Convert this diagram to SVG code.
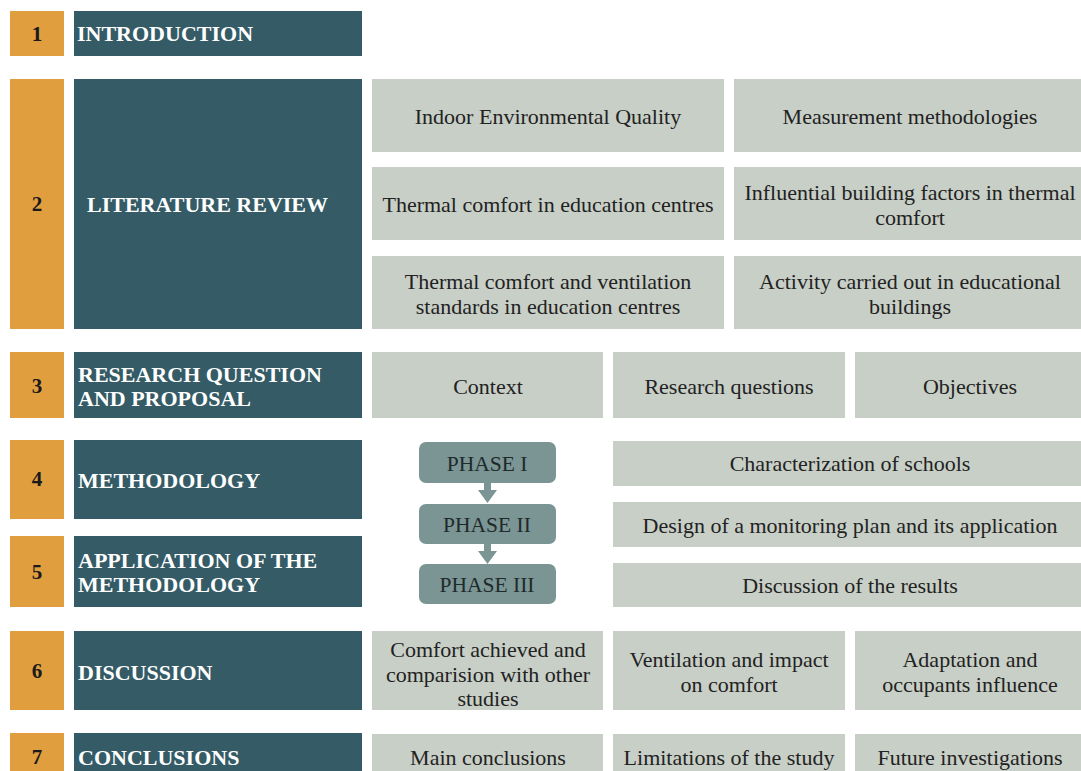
<svg xmlns="http://www.w3.org/2000/svg" width="1081" height="771" viewBox="0 0 1081 771">
  <style>
    .num { fill: #E09E3F; }
    .sec { fill: #345B66; }
    .item { fill: #C8CFC7; }
    .phase { fill: #7B9494; }
    .numt { font-family: "Liberation Serif", serif; font-weight: bold; font-size: 21px; fill: #1a1a1a; text-anchor: middle; }
    .sect { font-family: "Liberation Serif", serif; font-weight: bold; font-size: 22px; fill: #ffffff; }
    .itemt { font-family: "Liberation Serif", serif; font-size: 22px; fill: #222222; text-anchor: middle; }
    .phaset { font-family: "Liberation Serif", serif; font-size: 21.5px; fill: #1e2a2a; text-anchor: middle; }
  </style>
  <rect width="1081" height="771" fill="#ffffff"/>

  <!-- 1 Introduction -->
  <g id="s1">
    <rect class="num" x="10" y="11" width="54" height="45"/>
    <text class="numt" x="37" y="41">1</text>
    <rect class="sec" x="74" y="11" width="288" height="45"/>
    <text class="sect" x="77" y="41">INTRODUCTION</text>
  </g>

  <!-- 2 Literature review -->
  <g id="s2">
    <rect class="num" x="10" y="79" width="54" height="250"/>
    <text class="numt" x="37" y="211">2</text>
    <rect class="sec" x="74" y="79" width="288" height="250"/>
    <text class="sect" x="87" y="212">LITERATURE REVIEW</text>
  </g>
  <g id="s2-items">
    <rect class="item" x="372" y="79" width="352" height="73"/>
    <text class="itemt" x="548" y="124">Indoor Environmental Quality</text>
    <rect class="item" x="734" y="79" width="347" height="73"/>
    <text class="itemt" x="910" y="124">Measurement methodologies</text>
    <rect class="item" x="372" y="167" width="352" height="73"/>
    <text class="itemt" x="548" y="212">Thermal comfort in education centres</text>
    <rect class="item" x="734" y="167" width="347" height="73"/>
    <text class="itemt" x="910" y="200">Influential building factors in thermal</text>
    <text class="itemt" x="910" y="225">comfort</text>
    <rect class="item" x="372" y="256" width="352" height="73"/>
    <text class="itemt" x="548" y="289">Thermal comfort and ventilation</text>
    <text class="itemt" x="548" y="314">standards in education centres</text>
    <rect class="item" x="734" y="256" width="347" height="73"/>
    <text class="itemt" x="910" y="289">Activity carried out in educational</text>
    <text class="itemt" x="910" y="314">buildings</text>
  </g>

  <!-- 3 Research question -->
  <g id="s3">
    <rect class="num" x="10" y="352" width="54" height="66"/>
    <text class="numt" x="37" y="393">3</text>
    <rect class="sec" x="74" y="352" width="288" height="66"/>
    <text class="sect" x="78" y="382">RESEARCH QUESTION</text>
    <text class="sect" x="78" y="406">AND PROPOSAL</text>
  </g>
  <g id="s3-items">
    <rect class="item" x="372" y="352" width="231" height="66"/>
    <text class="itemt" x="488" y="394">Context</text>
    <rect class="item" x="613" y="352" width="232" height="66"/>
    <text class="itemt" x="729" y="394">Research questions</text>
    <rect class="item" x="855" y="352" width="226" height="66"/>
    <text class="itemt" x="970" y="394">Objectives</text>
  </g>

  <!-- 4 Methodology -->
  <g id="s4">
    <rect class="num" x="10" y="440" width="54" height="79"/>
    <text class="numt" x="37" y="486">4</text>
    <rect class="sec" x="74" y="440" width="288" height="79"/>
    <text class="sect" x="78" y="488">METHODOLOGY</text>
  </g>

  <!-- 5 Application -->
  <g id="s5">
    <rect class="num" x="10" y="536" width="54" height="71"/>
    <text class="numt" x="37" y="579">5</text>
    <rect class="sec" x="74" y="536" width="288" height="71"/>
    <text class="sect" x="78" y="568">APPLICATION OF THE</text>
    <text class="sect" x="78" y="592">METHODOLOGY</text>
  </g>

  <!-- phases -->
  <g id="phase1">
    <rect class="phase" x="419" y="442" width="137" height="41" rx="7"/>
    <text class="phaset" x="487" y="471">PHASE I</text>
  </g>
  <g id="phase2">
    <rect class="phase" x="419" y="504" width="137" height="40" rx="7"/>
    <text class="phaset" x="487" y="532">PHASE II</text>
  </g>
  <g id="phase3">
    <rect class="phase" x="419" y="564" width="137" height="40" rx="7"/>
    <text class="phaset" x="487" y="592">PHASE III</text>
  </g>

  <g id="s45-items">
    <rect class="item" x="613" y="441" width="468" height="45"/>
    <text class="itemt" x="850" y="471">Characterization of schools</text>
    <rect class="item" x="613" y="502" width="468" height="45"/>
    <text class="itemt" x="850" y="533">Design of a monitoring plan and its application</text>
    <rect class="item" x="613" y="563" width="468" height="44"/>
    <text class="itemt" x="850" y="593">Discussion of the results</text>
  </g>

  <!-- 6 Discussion -->
  <g id="s6">
    <rect class="num" x="10" y="631" width="54" height="79"/>
    <text class="numt" x="37" y="678">6</text>
    <rect class="sec" x="74" y="631" width="288" height="79"/>
    <text class="sect" x="78" y="680">DISCUSSION</text>
  </g>
  <g id="s6-items">
    <rect class="item" x="372" y="631" width="231" height="79"/>
    <text class="itemt" x="488" y="657">Comfort achieved and</text>
    <text class="itemt" x="488" y="682">comparision with other</text>
    <text class="itemt" x="488" y="706">studies</text>
    <rect class="item" x="613" y="631" width="232" height="79"/>
    <text class="itemt" x="729" y="667">Ventilation and impact</text>
    <text class="itemt" x="729" y="692">on comfort</text>
    <rect class="item" x="855" y="631" width="226" height="79"/>
    <text class="itemt" x="970" y="667">Adaptation and</text>
    <text class="itemt" x="970" y="692">occupants influence</text>
  </g>

  <!-- 7 Conclusions -->
  <g id="s7">
    <rect class="num" x="10" y="733" width="54" height="40"/>
    <text class="numt" x="37" y="764">7</text>
    <rect class="sec" x="74" y="733" width="288" height="40"/>
    <text class="sect" x="78" y="765">CONCLUSIONS</text>
  </g>
  <g id="s7-items">
    <rect class="item" x="372" y="734" width="231" height="39"/>
    <text class="itemt" x="488" y="765">Main conclusions</text>
    <rect class="item" x="613" y="734" width="232" height="39"/>
    <text class="itemt" x="729" y="765">Limitations of the study</text>
    <rect class="item" x="855" y="734" width="226" height="39"/>
    <text class="itemt" x="970" y="765">Future investigations</text>
  </g>

  <!-- phase connectors -->
  <g id="connectors" fill="#7B9494">
    <path d="M484 483 H491 V490 H497 L487.5 503 L478 490 H484 Z"/>
    <path d="M484 544 H491 V551 H497 L487.5 564 L478 551 H484 Z"/>
  </g>
</svg>
